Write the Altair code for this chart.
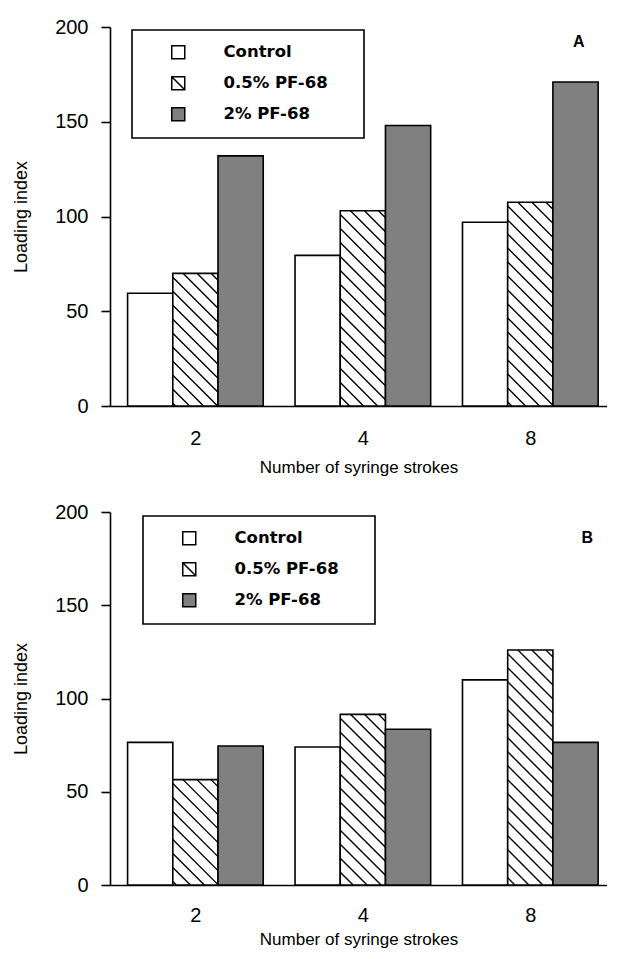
import altair as alt
import pandas as pd

# ---- data ----
strokes = ["2", "4", "8"]
series_names = ["Control", "0.5% PF-68", "2% PF-68"]

a_control = [59.5, 79.5, 97]
a_low = [70, 103, 107.5]
a_high = [132, 148, 171]

b_control = [76.5, 74, 110]
b_low = [56.5, 91.5, 126]
b_high = [74.5, 83.5, 76.5]

fills = ["white", "white", "#808080"]
legend_shapes = ["square", "M-1,-1H1V1H-1Z M-1,-1L1,1", "square"]

# ---- layout constants ----
W = 497
PX_PER_UNIT = 167.45
H_A = 379
H_B = 373
X_DOM = [-0.51, -0.51 + W / PX_PER_UNIT]
BW = 0.27            # bar width in group units
HATCH_STEP = 14      # vertical spacing of hatch lines (px)


def bars_df(values):
    rows = []
    for si, (name, vals) in enumerate(zip(series_names, values)):
        for gi, (s, v) in enumerate(zip(strokes, vals)):
            x0 = gi + (si - 1.5) * BW
            rows.append(dict(series=name, strokes=s, value=v, x0=x0, x1=x0 + BW))
    return pd.DataFrame(rows)


def hatch_df(bars, height):
    pxx = W / (X_DOM[1] - X_DOM[0])
    pxy = height / 200.0
    rows = []
    for _, r in bars[bars.series == series_names[1]].iterrows():
        wb = BW * pxx
        hb = r.value * pxy
        c = -wb + HATCH_STEP / 2.0
        while c < hb:
            u0 = max(0.0, -c)
            u1 = min(wb, hb - c)
            if u1 > u0:
                rows.append(dict(hx0=r.x0 + u0 / pxx, hx1=r.x0 + u1 / pxx,
                                 hy0=r.value - (u0 + c) / pxy,
                                 hy1=r.value - (u1 + c) / pxy))
            c += HATCH_STEP
    return pd.DataFrame(rows)


def panel(values, height, label, legend_x, legend_y, title_dx, title_dy,
          x_label_pad, x_title_pad):
    bars = bars_df(values)
    hatch = hatch_df(bars, height)
    x_scale = alt.Scale(domain=X_DOM, nice=False, zero=False)
    y_scale = alt.Scale(domain=[0, 200], nice=False)
    fill_scale = alt.Scale(domain=series_names, range=fills)
    shape_scale = alt.Scale(domain=series_names, range=legend_shapes)
    label_expr = "[" + ",".join("'%s'" % s for s in strokes) + "][datum.value]"
    x_axis = alt.Axis(values=[0, 1, 2], labelExpr=label_expr,
                      title="Number of syringe strokes", ticks=False, tickSize=0,
                      grid=False, labelPadding=x_label_pad, titlePadding=x_title_pad,
                      labelFlush=False)
    y_axis = alt.Axis(values=[0, 50, 100, 150, 200], title="Loading index",
                      grid=False, tickSize=9, labelPadding=13, titlePadding=24,
                      titleFontSize=18, labelFlush=False)
    legend = alt.Legend(orient="none", legendX=legend_x, legendY=legend_y, title=" ",
                        titleOrient="right", titlePadding=22,
                        symbolOffset=24, labelOffset=37)
    base_bars = alt.Chart(bars).mark_rect(stroke="black", strokeWidth=1.6).encode(
        x=alt.X("x0:Q", scale=x_scale, axis=x_axis),
        x2="x1:Q",
        y=alt.Y("value:Q", scale=y_scale, axis=y_axis),
        y2=alt.datum(0),
        fill=alt.Fill("series:N", scale=fill_scale, legend=legend),
    )
    hatch_layer = alt.Chart(hatch).mark_rule(color="black", strokeWidth=1.4).encode(
        x=alt.X("hx0:Q", scale=x_scale, axis=x_axis),
        x2="hx1:Q",
        y=alt.Y("hy0:Q", scale=y_scale, axis=y_axis),
        y2="hy1:Q",
    )
    # legend carrier: no visible points, only the legend symbols
    key_layer = alt.Chart(bars).transform_filter("false").mark_point(
        filled=True, opacity=1, stroke="black", strokeWidth=1.5, size=169
    ).encode(
        x=alt.X("x0:Q", scale=x_scale, axis=x_axis),
        y=alt.Y("value:Q", scale=y_scale, axis=y_axis),
        fill=alt.Fill("series:N", scale=fill_scale, legend=legend),
        shape=alt.Shape("series:N", scale=shape_scale, legend=legend),
    )
    return alt.layer(base_bars, hatch_layer, key_layer).properties(
        width=W, height=height,
        title=alt.TitleParams(label, anchor="end", frame="group", orient="top",
                              dx=title_dx, dy=title_dy, offset=0,
                              font="Liberation Sans", fontSize=16, fontWeight="bold",
                              color="black"),
    )


panel_a = panel([a_control, a_low, a_high], H_A, "A", 22, 3, -22.5, 33, 22, 11)
panel_b = panel([b_control, b_low, b_high], H_B, "B", 33, 4, -14, 44, 20, 6)

chart = (
    alt.vconcat(panel_a, panel_b, spacing=27)
    .resolve_scale(fill="independent", shape="independent")
    .resolve_legend(fill="independent", shape="independent")
    .properties(padding={"left": 4, "top": 9, "right": 0, "bottom": 3})
    .configure_view(stroke=None)
    .configure_axis(domainColor="black", domainWidth=1.6, tickColor="black",
                    tickWidth=1.6, labelColor="black", titleColor="black",
                    labelFont="Liberation Sans", labelFontSize=20,
                    titleFont="Liberation Sans", titleFontSize=17,
                    titleFontWeight="normal")
    .configure_legend(strokeColor="black", strokeWidth=1.6, padding=14,
                      rowPadding=11,
                      symbolStrokeColor="black", symbolStrokeWidth=1.5,
                      symbolSize=169, symbolType="square",
                      labelFont="DejaVu Sans", labelFontSize=16.5,
                      labelFontWeight="bold", labelColor="black")
)

chart.save("out.html", embed_options={"renderer": "svg", "actions": False})
